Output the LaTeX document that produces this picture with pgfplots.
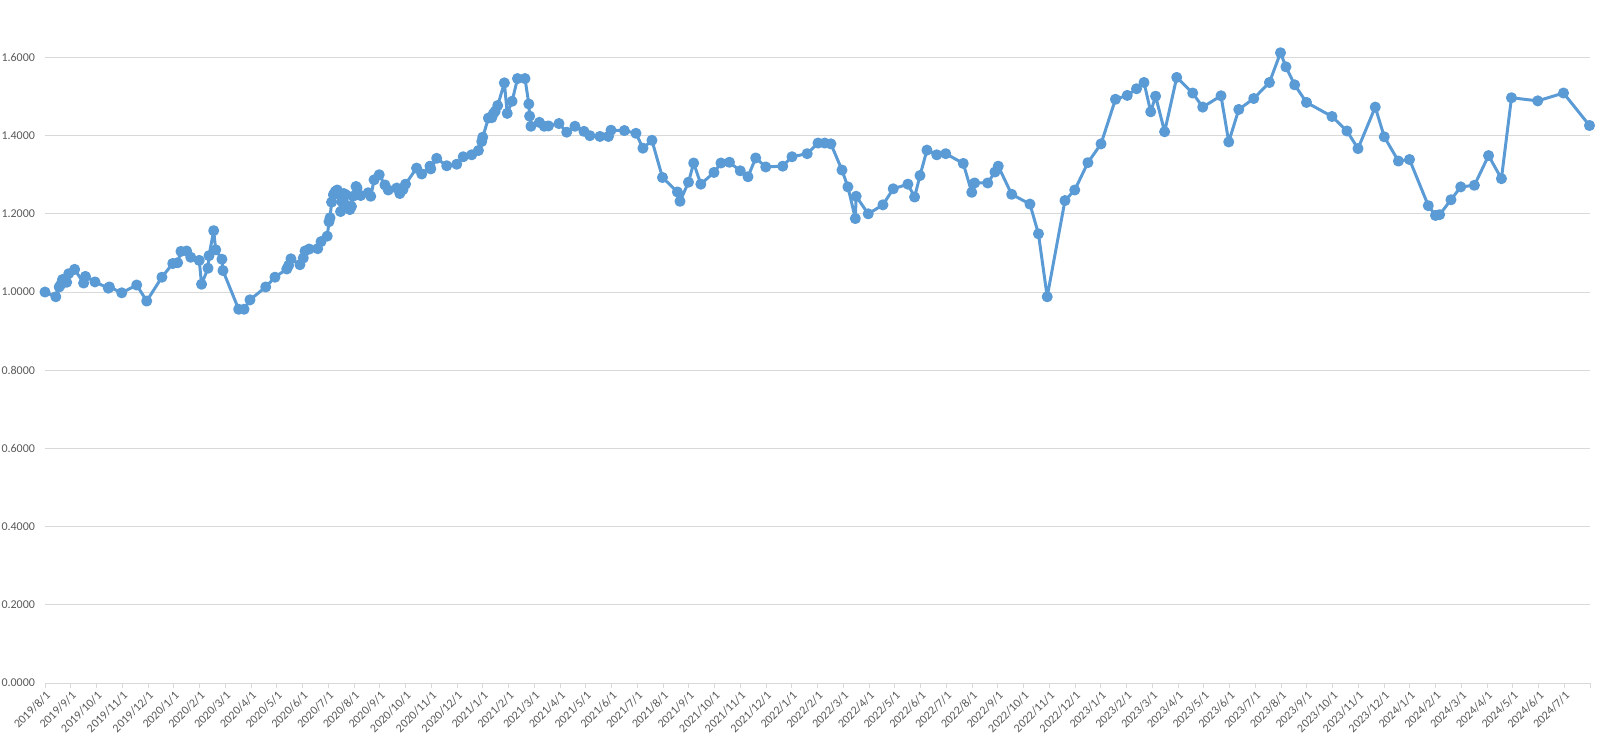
\documentclass[border=0pt]{standalone}
\usepackage{pgfplots}
\pgfplotsset{compat=1.18}
\usepackage{fontspec}
\setmainfont{Carlito}
\definecolor{lineblue}{HTML}{5B9BD5}
\definecolor{gridgray}{HTML}{D9D9D9}
\definecolor{labelgray}{HTML}{595959}
\begin{document}
\begin{tikzpicture}
\begin{axis}[name=ax, scale only axis, width=1158.75pt, height=512.25pt,
  xmin=0, xmax=60, ymin=0, ymax=1.747,
  axis x line*=bottom, axis y line*=left,
  x axis line style={draw=gridgray, line width=0.75pt, -},
  y axis line style={draw=none},
  ytick={0,0.2,0.4,0.6,0.8,1.0,1.2,1.4,1.6},
  ymajorgrids, grid style={draw=gridgray, line width=0.75pt},
  ytick style={draw=none},
  xtick={0,...,60},
  xtick style={draw=gridgray, line width=0.75pt},
  tick align=outside, major tick length=4pt,
  xticklabels={2019/8/1,2019/9/1,2019/10/1,2019/11/1,2019/12/1,
    2020/1/1,2020/2/1,2020/3/1,2020/4/1,2020/5/1,2020/6/1,2020/7/1,2020/8/1,2020/9/1,2020/10/1,2020/11/1,2020/12/1,
    2021/1/1,2021/2/1,2021/3/1,2021/4/1,2021/5/1,2021/6/1,2021/7/1,2021/8/1,2021/9/1,2021/10/1,2021/11/1,2021/12/1,
    2022/1/1,2022/2/1,2022/3/1,2022/4/1,2022/5/1,2022/6/1,2022/7/1,2022/8/1,2022/9/1,2022/10/1,2022/11/1,2022/12/1,
    2023/1/1,2023/2/1,2023/3/1,2023/4/1,2023/5/1,2023/6/1,2023/7/1,2023/8/1,2023/9/1,2023/10/1,2023/11/1,2023/12/1,
    2024/1/1,2024/2/1,2024/3/1,2024/4/1,2024/5/1,2024/6/1,2024/7/1,{}},
  xticklabel style={rotate=45, anchor=north east, font=\fontsize{9}{10}\selectfont, text=labelgray, inner sep=1pt},
  yticklabel style={font=\fontsize{9}{10}\selectfont, text=labelgray},
  /pgf/number format/.cd, fixed, fixed zerofill, precision=4, assume math mode=true,
]
\addplot[color=lineblue, line width=2.25pt, line join=round, line cap=round, mark=*, mark size=3pt, mark options={fill=lineblue, draw=none}] coordinates {
(0.00,1.000) (0.42,0.988) (0.55,1.013) (0.62,1.020) (0.68,1.032) (0.74,1.027) (0.84,1.025) (0.92,1.047)
(1.15,1.058) (1.50,1.023) (1.57,1.040) (1.94,1.026) (2.46,1.010) (2.50,1.013) (2.98,0.998) (3.56,1.018)
(3.95,0.977) (4.54,1.038) (4.96,1.073) (5.15,1.075) (5.28,1.104) (5.50,1.105) (5.66,1.089) (5.99,1.081)
(6.08,1.020) (6.33,1.061) (6.37,1.093) (6.55,1.157) (6.63,1.108) (6.87,1.084) (6.91,1.055) (7.52,0.956)
(7.73,0.956) (7.96,0.980) (8.57,1.013) (8.93,1.038) (9.39,1.059) (9.46,1.068) (9.55,1.085) (9.90,1.070)
(10.03,1.087) (10.10,1.105) (10.26,1.110) (10.59,1.111) (10.72,1.129) (10.96,1.143) (11.03,1.180) (11.07,1.190)
(11.13,1.230) (11.20,1.249) (11.27,1.257) (11.35,1.261) (11.42,1.252) (11.48,1.206) (11.52,1.232) (11.60,1.252)
(11.68,1.249) (11.78,1.219) (11.84,1.211) (11.90,1.219) (11.96,1.245) (12.08,1.270) (12.12,1.266) (12.26,1.247)
(12.55,1.254) (12.65,1.245) (12.78,1.287) (12.98,1.300) (13.20,1.274) (13.33,1.261) (13.66,1.266) (13.78,1.252)
(13.90,1.262) (14.00,1.276) (14.43,1.317) (14.63,1.302) (14.95,1.322) (14.98,1.315) (15.21,1.342) (15.60,1.323)
(15.99,1.327) (16.24,1.346) (16.57,1.351) (16.83,1.362) (16.96,1.385) (17.00,1.396) (17.22,1.445) (17.35,1.446)
(17.41,1.456) (17.48,1.462) (17.58,1.477) (17.84,1.535) (17.95,1.457) (18.14,1.488) (18.35,1.546) (18.64,1.546)
(18.79,1.481) (18.82,1.450) (18.87,1.424) (19.20,1.434) (19.39,1.424) (19.55,1.425) (19.96,1.431) (20.26,1.409)
(20.58,1.424) (20.93,1.411) (21.16,1.400) (21.55,1.398) (21.88,1.398) (21.98,1.414) (22.50,1.413) (22.95,1.406)
(23.22,1.368) (23.57,1.388) (23.98,1.293) (24.56,1.256) (24.66,1.232) (24.99,1.281) (25.19,1.330) (25.47,1.276)
(25.98,1.306) (26.25,1.330) (26.58,1.332) (27.00,1.310) (27.30,1.295) (27.60,1.343) (27.99,1.320) (28.65,1.322)
(29.01,1.346) (29.60,1.354) (30.02,1.381) (30.28,1.381) (30.52,1.379) (30.95,1.312) (31.18,1.269) (31.47,1.188)
(31.50,1.245) (31.97,1.200) (32.54,1.223) (32.94,1.264) (33.51,1.276) (33.77,1.243) (33.98,1.298) (34.25,1.363)
(34.63,1.351) (34.98,1.354) (35.66,1.329) (35.99,1.255) (36.10,1.279) (36.61,1.279) (36.89,1.307) (37.02,1.322)
(37.54,1.250) (38.25,1.225) (38.58,1.149) (38.92,0.988) (39.61,1.234) (39.99,1.261) (40.50,1.331) (41.01,1.379)
(41.57,1.493) (42.03,1.503) (42.39,1.520) (42.68,1.536) (42.94,1.461) (43.13,1.501) (43.48,1.410) (43.95,1.549)
(44.57,1.509) (44.96,1.473) (45.67,1.502) (45.97,1.384) (46.36,1.467) (46.94,1.495) (47.55,1.536) (47.98,1.612)
(48.19,1.576) (48.53,1.530) (48.99,1.485) (49.98,1.449) (50.56,1.412) (50.99,1.367) (51.66,1.473) (52.01,1.397)
(52.56,1.335) (52.99,1.339) (53.72,1.221) (54.00,1.196) (54.16,1.198) (54.60,1.236) (54.98,1.269) (55.51,1.273)
(56.06,1.349) (56.56,1.290) (56.95,1.497) (57.97,1.489) (58.97,1.509) (59.98,1.426)
};
\end{axis}
\pgfresetboundingbox
\path ([xshift=-33.75pt,yshift=-45pt]ax.south west) rectangle ([xshift=7.5pt]ax.north east);
\end{tikzpicture}
\end{document}
